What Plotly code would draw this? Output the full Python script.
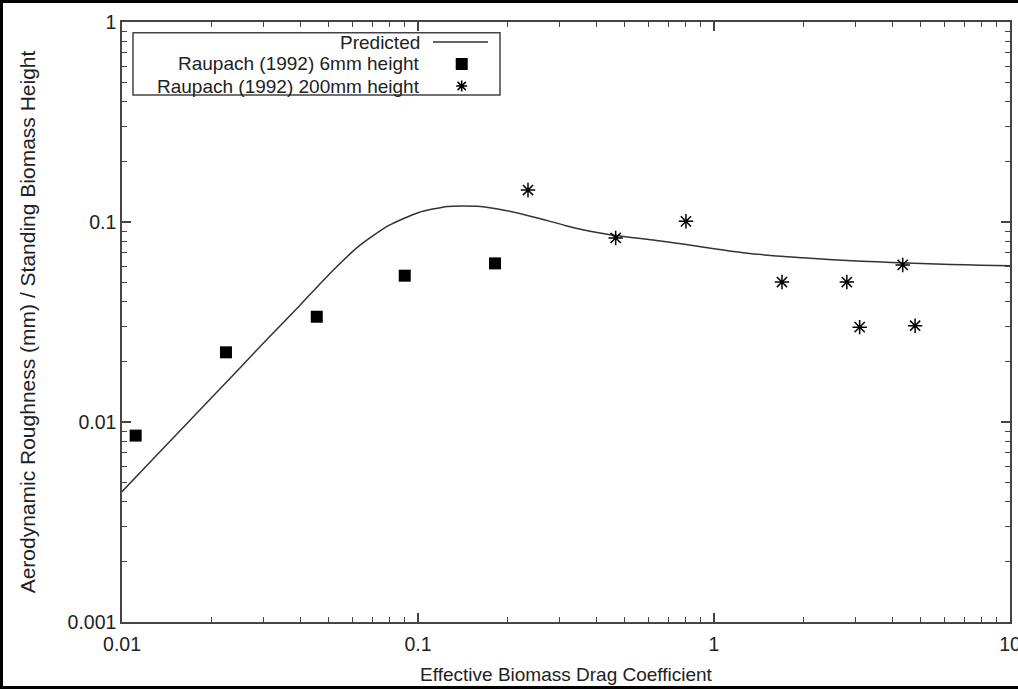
import plotly.graph_objects as go

# ---- data ----
pred_x = [0.01, 0.01259, 0.01585, 0.01995, 0.02512, 0.03162, 0.03981, 0.05012, 0.0631,
          0.07943, 0.1, 0.1259, 0.1585, 0.1995, 0.2512, 0.3162, 0.3981, 0.5012, 0.631,
          0.7943, 1.0, 1.259, 1.585, 1.995, 2.512, 3.162, 3.981, 5.012, 6.31, 7.943, 10.0]
pred_y = [0.004482, 0.006412, 0.009173, 0.01311, 0.01875, 0.02683, 0.03816, 0.05483, 0.07568,
          0.09583, 0.1113, 0.1197, 0.1199, 0.1139, 0.1051, 0.09583, 0.08892, 0.08438, 0.0811,
          0.07745, 0.07355, 0.07024, 0.06785, 0.06631, 0.0648, 0.06368, 0.06273, 0.06202,
          0.06131, 0.06081, 0.06046]

sq_x = [0.01112, 0.02245, 0.0455, 0.0902, 0.182]
sq_y = [0.00855, 0.0223, 0.0336, 0.0539, 0.0621]

st_x = [0.2353, 0.4654, 0.804, 1.697, 2.81, 3.105, 4.34, 4.78]
st_y = [0.1445, 0.0832, 0.1008, 0.0501, 0.0501, 0.0298, 0.061, 0.0303]

x_ticks = [0.01, 0.1, 1, 10]
x_ticktext = ["0.01", "0.1", "1", "10"]
y_ticks = [0.001, 0.01, 0.1, 1]
y_ticktext = ["0.001", "0.01", "0.1", "1"]

legend_names = ["Predicted", "Raupach (1992) 6mm height", "Raupach (1992) 200mm height"]
x_title = "Effective Biomass Drag Coefficient"
y_title = "Aerodynamic Roughness (mm) / Standing Biomass Height"

FONT = "Liberation Sans"
TXT = "#222222"
AX = "#444444"

x_minor = [m * 10.0 ** e for e in range(-2, 1) for m in range(2, 10)]
y_minor = [m * 10.0 ** e for e in range(-3, 0) for m in range(2, 10)]

fig = go.Figure()
fig.add_trace(go.Scatter(x=pred_x, y=pred_y, mode="lines", name=legend_names[0],
                         line=dict(color="#333333", width=1.5, shape="spline", smoothing=0.6),
                         showlegend=False))
fig.add_trace(go.Scatter(x=sq_x, y=sq_y, mode="markers", name=legend_names[1],
                         marker=dict(symbol="square", size=12, color="black"),
                         showlegend=False))
fig.add_trace(go.Scatter(x=st_x, y=st_y, mode="markers", name=legend_names[2],
                         marker=dict(symbol="asterisk-open", size=12, color="black",
                                     line=dict(color="black", width=1.5)),
                         showlegend=False))

axis_common = dict(type="log", showline=True, linecolor=AX, linewidth=1.5, mirror="allticks",
                   ticks="inside", ticklen=9, tickwidth=1.5, tickcolor=AX,
                   showgrid=False, zeroline=False, ticklabeloverflow="allow",
                   tickfont=dict(family=FONT, size=19.5, color=TXT))

fig.update_xaxes(**axis_common, range=[-2, 1], tickmode="array", tickvals=x_ticks,
                 ticktext=x_ticktext, ticklabelstandoff=4,
                 minor=dict(ticks="inside", ticklen=5, tickwidth=1.2, tickcolor=AX,
                            tickmode="array", tickvals=x_minor, showgrid=False),
                 title=dict(text=x_title, font=dict(family=FONT, size=19, color=TXT), standoff=14))
fig.update_yaxes(**axis_common, range=[-3, 0], tickmode="array", tickvals=y_ticks,
                 ticktext=y_ticktext, ticklabelstandoff=0,
                 minor=dict(ticks="inside", ticklen=5, tickwidth=1.2, tickcolor=AX,
                            tickmode="array", tickvals=y_minor, showgrid=False),
                 title=dict(text=y_title, font=dict(family=FONT, size=21, color=TXT), standoff=26))

W, H = 1018, 689
L, R, T, B = 122, 8, 22, 67
pw, ph = W - L - R, H - T - B


def px(x):
    return (x - L) / pw


def py(y):
    return (H - B - y) / ph


shapes = []
# outer black frame
shapes.append(dict(type="rect", xref="paper", yref="paper", x0=px(1.5), x1=px(1030),
                   y0=py(687.5), y1=py(1.5), line=dict(color="black", width=3)))
# legend box
shapes.append(dict(type="rect", xref="paper", yref="paper", x0=px(133), x1=px(500),
                   y0=py(95), y1=py(32.7), line=dict(color=AX, width=1.5),
                   fillcolor="white", layer="above"))
rows = [42, 64, 86]
kx = 461.7
# line key
shapes.append(dict(type="line", xref="paper", yref="paper", x0=px(433), x1=px(488),
                   y0=py(rows[0]), y1=py(rows[0]), line=dict(color="#333333", width=1.5)))
# square key
shapes.append(dict(type="rect", xref="paper", yref="paper", x0=px(kx - 6), x1=px(kx + 6),
                   y0=py(rows[1] + 6), y1=py(rows[1] - 6), fillcolor="black",
                   line=dict(color="black", width=0)))
# asterisk key
a = 5.5
cy = rows[2]
path = (f"M{px(kx - a)},{py(cy)} L{px(kx + a)},{py(cy)} "
        f"M{px(kx)},{py(cy - a)} L{px(kx)},{py(cy + a)} "
        f"M{px(kx - a * 0.75)},{py(cy - a * 0.75)} L{px(kx + a * 0.75)},{py(cy + a * 0.75)} "
        f"M{px(kx - a * 0.75)},{py(cy + a * 0.75)} L{px(kx + a * 0.75)},{py(cy - a * 0.75)}")
shapes.append(dict(type="path", xref="paper", yref="paper", path=path,
                   line=dict(color="black", width=1.5)))

annotations = []
for name, r in zip(legend_names, rows):
    annotations.append(dict(text=name, xref="paper", yref="paper", x=px(422), y=py(r),
                            xanchor="right", yanchor="middle", showarrow=False,
                            font=dict(family=FONT, size=19, color=TXT)))

fig.update_layout(width=W, height=H, margin=dict(l=L, r=R, t=T, b=B, autoexpand=False),
                  paper_bgcolor="white", plot_bgcolor="white", showlegend=False,
                  shapes=shapes, annotations=annotations)

fig.write_html("out.html")
